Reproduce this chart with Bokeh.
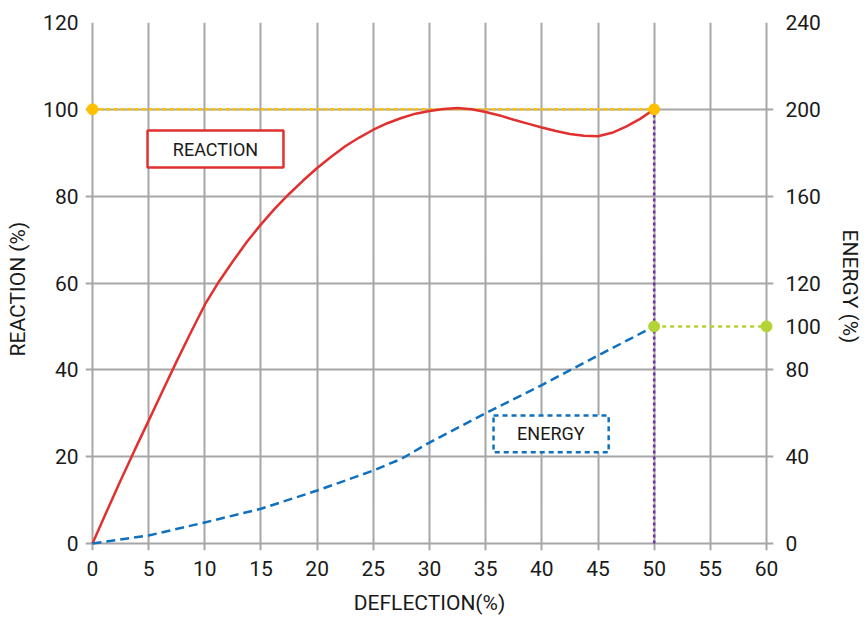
from bokeh.plotting import figure
from bokeh.models import Range1d, LinearAxis, FixedTicker, BoxAnnotation, Label
from bokeh.embed import file_html
from bokeh.resources import INLINE

# Data
deflection = [0, 1.25, 2.5, 3.75, 5, 6.25, 7.5, 8.75, 10, 11.25, 12.5, 13.75, 15, 16.25, 17.5, 18.75,
              20, 21.25, 22.5, 23.75, 25, 26.25, 27.5, 28.75, 30, 31.25, 32.5, 33.75, 35, 36.25,
              37.5, 38.75, 40, 41.25, 42.5, 43.75, 45, 46.25, 47.5, 48.75, 50]
reaction = [0, 7.3, 14.5, 21.5, 28.3, 35.2, 42, 48.6, 55, 60.3, 65, 69.5, 73.5, 77.2, 80.5, 83.6,
            86.5, 89.1, 91.5, 93.5, 95.3, 96.8, 98, 99, 99.6, 100.1, 100.3, 100, 99.4, 98.6,
            97.6, 96.7, 95.8, 95, 94.3, 93.9, 93.8, 94.6, 96.0, 97.8, 100]
energy_x = [0, 5, 10, 15, 20, 25, 27.5, 30, 35, 40, 45, 50]
energy = [0, 3.7, 9.7, 16, 24.4, 33.6, 39, 46.5, 60, 73, 86.6, 100]
ref_reaction_x = [0, 50]
ref_reaction_y = [100, 100]
limit_x = [50, 50]
limit_y = [0, 100]
ref_energy_x = [50, 60]
ref_energy_y = [100, 100]

x_ticks = [0, 5, 10, 15, 20, 25, 30, 35, 40, 45, 50, 55, 60]
left_ticks = [0, 20, 40, 60, 80, 100, 120]
right_ticks = [0, 40, 80, 100, 120, 160, 200, 240]

FONT = "Roboto"
GRID = "#a6a6a6"
TXT = "#1a1a1a"

# ranges padded slightly so grid lines stick out like tick marks
XPAD = 0.623
YPAD = 1.612
p = figure(frame_width=688, frame_height=528, output_backend="svg", toolbar_location=None,
           x_range=Range1d(-XPAD, 60 + XPAD), y_range=Range1d(-YPAD, 120),
           min_border_left=85, min_border_right=4, min_border_top=22, min_border_bottom=10)
p.outline_line_color = None
p.extra_y_ranges = {"energy": Range1d(-2 * YPAD, 240)}


def style_axis(ax, standoff, label_standoff):
    ax.major_label_text_font = FONT
    ax.major_label_text_font_size = "21px"
    ax.major_label_text_color = TXT
    ax.axis_label_text_font = FONT
    ax.axis_label_text_font_size = "21px"
    ax.axis_label_text_font_style = "normal"
    ax.axis_label_text_color = TXT
    ax.axis_line_color = None
    ax.major_tick_line_color = None
    ax.major_tick_out = 0
    ax.major_tick_in = 0
    ax.minor_tick_line_color = None
    ax.major_label_standoff = standoff
    ax.axis_label_standoff = label_standoff


p.xaxis[0].ticker = FixedTicker(ticks=x_ticks)
p.yaxis[0].ticker = FixedTicker(ticks=left_ticks)
p.xaxis[0].axis_label = "DEFLECTION(%)"
p.yaxis[0].axis_label = "REACTION  (%)"
style_axis(p.xaxis[0], 10, 12)
style_axis(p.yaxis[0], 7, 10)

ra = LinearAxis(y_range_name="energy", ticker=FixedTicker(ticks=right_ticks), axis_label="ENERGY (%)")
style_axis(ra, 12, 14)
p.add_layout(ra, "right")

p.xgrid.grid_line_color = GRID
p.ygrid.grid_line_color = GRID
p.xgrid.grid_line_width = 2
p.ygrid.grid_line_width = 2
p.xgrid.ticker = FixedTicker(ticks=x_ticks)
p.ygrid.ticker = FixedTicker(ticks=left_ticks)

# Label boxes
p.add_layout(BoxAnnotation(left=4.9, right=17.0, bottom=86.6, top=95.1,
                           fill_color="white", fill_alpha=1, line_color="#e03030", line_alpha=1,
                           line_width=2.5))
p.add_layout(Label(x=10.95, y=90.85, text="REACTION", text_align="center", text_baseline="middle",
                   text_font=FONT, text_font_size="18px", text_color=TXT))
p.add_layout(BoxAnnotation(left=35.7, right=45.95, bottom=21.0, top=29.5,
                           fill_color="white", fill_alpha=1, line_color="#1070c0", line_alpha=1,
                           line_width=2.5, line_dash="5 4"))
p.add_layout(Label(x=40.8, y=25.25, text="ENERGY", text_align="center", text_baseline="middle",
                   text_font=FONT, text_font_size="18px", text_color=TXT))

# Reference lines
p.line(ref_reaction_x, ref_reaction_y, line_color="#ffc000", line_width=2.5, line_dash="4 3")
p.line(limit_x, limit_y, line_color="#7030a0", line_width=2.5, line_dash="3 3")
p.line(ref_energy_x, ref_energy_y, y_range_name="energy", line_color="#b4d335", line_width=2.5, line_dash="4 4")

# Curves
p.line(deflection, reaction, line_color="#e03030", line_width=2.5)
p.line(energy_x, energy, y_range_name="energy", line_color="#1070c0", line_width=2.5, line_dash="9 5")

p.scatter(ref_reaction_x, ref_reaction_y, size=11, color="#ffc000")
p.scatter(ref_energy_x, ref_energy_y, y_range_name="energy", size=11, color="#b4d335")

open("out.html", "w").write(file_html(p, INLINE))
